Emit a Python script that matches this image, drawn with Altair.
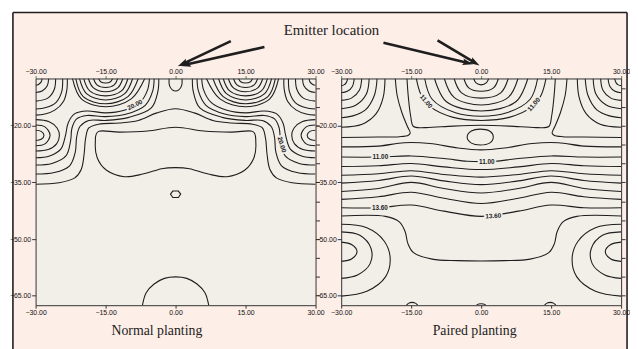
import altair as alt
import pandas as pd

# ---------------- axes ----------------
X_DOMAIN = [-30, 30]
Y_DOMAIN = [-67.5, -7.5]
X_TICKS = [-30, -15, 0, 15, 30]
Y_TICKS = [-20, -35, -50, -65]
Y_MINOR_TICKS = [-10, -15, -20, -25, -30, -35, -40, -45, -50, -55, -60, -65]

# ============ Normal planting (left panel) contour lines, (x, depth) ============
N_CORNER_ARCS = [
    [(-28.6, -7.5), (-28.8, -8.4), (-29.4, -9.1), (-30, -9.3)],
    [(-27.2, -7.5), (-27.5, -9.4), (-28.6, -10.8), (-30, -11.2)],
    [(-25.7, -7.5), (-26.0, -10.4), (-27.4, -12.7), (-30, -13.5)],
    [(-24.2, -7.5), (-24.4, -11.0), (-25.6, -13.8), (-27.8, -15.2), (-30, -15.6)],
    [(-23.2, -7.5), (-23.3, -10.5), (-24.0, -13.5), (-25.8, -15.8), (-28.0, -16.9), (-30, -17.2)],
    [(28.6, -7.5), (28.8, -8.4), (29.4, -9.1), (30, -9.3)],
    [(27.2, -7.5), (27.5, -9.4), (28.6, -10.8), (30, -11.2)],
    [(25.7, -7.5), (26.0, -10.4), (27.4, -12.7), (30, -13.5)],
    [(24.2, -7.5), (24.4, -11.0), (25.6, -13.8), (27.8, -15.2), (30, -15.6)],
    [(23.2, -7.5), (23.3, -10.5), (24.0, -13.5), (25.8, -15.8), (28.0, -16.9), (30, -17.2)],
]
N_TOP_ARCS = [
    [(-16.5, -7.5), (-16.05, -8.35), (-15, -8.7), (-13.95, -8.35), (-13.5, -7.5)],
    [(-17.6, -7.5), (-16.85, -9.2), (-15, -9.9), (-13.15, -9.2), (-12.4, -7.5)],
    [(-18.7, -7.5), (-17.6, -10.0), (-15, -11.0), (-12.4, -10.0), (-11.3, -7.5)],
    [(-19.7, -7.5), (-18.4, -10.8), (-15, -12.1), (-11.6, -10.8), (-10.2, -7.5)],
    [(-20.6, -7.5), (-19.1, -11.5), (-15, -13.2), (-10.9, -11.5), (-9.2, -7.5)],
    [(-21.4, -7.5), (-19.8, -12.3), (-15, -14.2), (-10.2, -12.3), (-8.0, -7.5)],
    [(-22.1, -7.5), (-20.2, -12.9), (-15, -15.0), (-9.5, -12.9), (-6.6, -7.5)],
    [(13.5, -7.5), (13.95, -8.35), (15, -8.7), (16.05, -8.35), (16.5, -7.5)],
    [(12.4, -7.5), (13.15, -9.2), (15, -9.9), (16.85, -9.2), (17.6, -7.5)],
    [(11.3, -7.5), (12.4, -10.0), (15, -11.0), (17.6, -10.0), (18.7, -7.5)],
    [(10.2, -7.5), (11.6, -10.8), (15, -12.1), (18.4, -10.8), (19.7, -7.5)],
    [(9.2, -7.5), (10.9, -11.5), (15, -13.2), (19.1, -11.5), (20.6, -7.5)],
    [(8.0, -7.5), (10.2, -12.3), (15, -14.2), (19.8, -12.3), (21.4, -7.5)],
    [(6.6, -7.5), (9.5, -12.9), (15, -15.0), (20.2, -12.9), (22.1, -7.5)],
    [(-1.4, -7.5), (-1.3, -9.4), (-0.7, -10.5), (0, -10.8), (0.7, -10.5), (1.3, -9.4), (1.4, -7.5)],
]
N_WRAP_LINES = [
    [(-5.6, -7.5), (-6.0, -10.5), (-7.6, -13.8), (-11, -15.9), (-15, -16.6), (-19, -16.1),
     (-21.6, -16.8), (-23.0, -19.2), (-23.6, -22.6), (-24.6, -26.2), (-27, -28.0), (-30, -28.5)],
    [(-4.6, -7.5), (-4.9, -10.8), (-6.5, -14.6), (-10.5, -16.9), (-15, -17.6), (-19, -17.3),
     (-21.2, -18.2), (-22.2, -20.6), (-22.5, -24.0), (-23.5, -28.0), (-26.5, -30.0), (-30, -30.4)],
    [(-3.6, -7.5), (-3.8, -11.0), (-5.2, -15.3), (-10, -17.8), (-15, -18.6), (-18.6, -18.6),
     (-20.5, -20.2), (-21.2, -23.0), (-21.5, -27.0), (-22.7, -30.6), (-26, -32.4), (-30, -32.8)],
    [(5.6, -7.5), (6.0, -10.5), (7.6, -13.8), (11, -15.9), (15, -16.6), (19, -16.1),
     (21.6, -16.8), (23.0, -19.2), (23.6, -22.6), (24.6, -26.2), (27, -28.0), (30, -28.5)],
    [(4.6, -7.5), (4.9, -10.8), (6.5, -14.6), (10.5, -16.9), (15, -17.6), (19, -17.3),
     (21.2, -18.2), (22.2, -20.6), (22.5, -24.0), (23.5, -28.0), (26.5, -30.0), (30, -30.4)],
    [(3.6, -7.5), (3.8, -11.0), (5.2, -15.3), (10, -17.8), (15, -18.6), (18.6, -18.6),
     (20.5, -20.2), (21.2, -23.0), (21.5, -27.0), (22.7, -30.6), (26, -32.4), (30, -32.8)],
]
N_ACROSS = [
    [(-30, -35.5), (-25, -35.1), (-21.6, -33.8), (-20.2, -31.5), (-19.6, -27.5), (-19.3, -23.5),
     (-18.6, -20.6), (-16.5, -19.6), (-12, -19.3), (-8, -18.6), (-4, -16.6), (0, -15.5),
     (4, -16.6), (8, -18.6), (12, -19.3), (16.5, -19.6), (18.6, -20.6), (19.3, -23.5),
     (19.6, -27.5), (20.2, -31.5), (21.6, -33.8), (25, -35.1), (30, -35.5)],
]
N_EDGE_LOOPS = [
    [(-30, -21.2), (-28.8, -21.5), (-28.2, -22.5), (-28.8, -23.6), (-30, -23.9)],
    [(-30, -19.8), (-28.0, -20.3), (-26.9, -22.5), (-28.0, -24.8), (-30, -25.3)],
    [(-30, -18.4), (-27.2, -18.9), (-25.4, -20.6), (-24.9, -22.6), (-25.5, -24.8), (-27.3, -26.3), (-30, -26.7)],
    [(30, -21.2), (28.8, -21.5), (28.2, -22.5), (28.8, -23.6), (30, -23.9)],
    [(30, -19.8), (28.0, -20.3), (26.9, -22.5), (28.0, -24.8), (30, -25.3)],
    [(30, -18.4), (27.2, -18.9), (25.4, -20.6), (24.9, -22.6), (25.5, -24.8), (27.3, -26.3), (30, -26.7)],
]
N_BOTTOM_ARC = [
    [(-7.1, -67.5), (-6.3, -64.2), (-4.6, -61.9), (-2.4, -60.4), (0, -60.0),
     (2.4, -60.4), (4.6, -61.9), (6.3, -64.2), (7.1, -67.5)],
]
N_CLOSED = [
    [(-16.5, -21.5), (-12, -21.7), (-6, -21.4), (0, -20.4), (6, -21.4), (12, -21.7), (16.5, -21.5),
     (17.2, -24.5), (16.8, -28.5), (14.8, -31.8), (11, -33.5), (7, -32.8), (3, -31.4), (0, -31.1),
     (-3, -31.4), (-7, -32.8), (-11, -33.5), (-14.8, -31.8), (-16.8, -28.5), (-17.2, -24.5)],
]
N_POLYGONS = [
    [(-1.1, -38.1), (-0.6, -37.3), (0.6, -37.3), (1.1, -38.1), (0.6, -39.0), (-0.6, -39.0)],
]
N_LABELS = [("20.00", -8.7, -14.5, 333), ("20.00", 22.75, -25.0, 73)]

# ============ Paired planting (right panel) contour lines, (x, depth) ============
P_CORNER_ARCS = [
    [(-28.6, -7.5), (-28.9, -8.6), (-29.4, -9.2), (-30, -9.4)],
    [(-27.2, -7.5), (-27.6, -9.6), (-28.7, -10.9), (-30, -11.3)],
    [(-25.6, -7.5), (-26.1, -10.6), (-27.8, -12.7), (-30, -13.3)],
    [(-24.0, -7.5), (-24.6, -11.6), (-26.8, -14.5), (-30, -15.5)],
    [(-22.3, -7.5), (-22.9, -12.0), (-24.8, -15.8), (-27.5, -17.4), (-30, -17.9)],
    [(-20.6, -7.5), (-21.0, -12.5), (-22.5, -16.8), (-25.5, -19.6), (-30, -20.4)],
    [(-18.4, -7.5), (-18.0, -12.0), (-17.0, -16.5), (-15.8, -20.2), (-15.2, -21.9), (-15.6, -22.5),
     (-17.5, -22.9), (-22, -23.0), (-30, -23.1)],
    [(28.6, -7.5), (28.9, -8.6), (29.4, -9.2), (30, -9.4)],
    [(27.2, -7.5), (27.6, -9.6), (28.7, -10.9), (30, -11.3)],
    [(25.6, -7.5), (26.1, -10.6), (27.8, -12.7), (30, -13.3)],
    [(24.0, -7.5), (24.6, -11.6), (26.8, -14.5), (30, -15.5)],
    [(22.3, -7.5), (22.9, -12.0), (24.8, -15.8), (27.5, -17.4), (30, -17.9)],
    [(20.6, -7.5), (21.0, -12.5), (22.5, -16.8), (25.5, -19.6), (30, -20.4)],
    [(18.4, -7.5), (18.0, -12.0), (17.0, -16.5), (15.8, -20.2), (15.2, -21.9), (15.6, -22.5),
     (17.5, -22.9), (22, -23.0), (30, -23.1)],
]
P_TOP_ARCS = [
    [(-1.6, -7.5), (-1.15, -8.6), (0, -9.2), (1.15, -8.6), (1.6, -7.5)],
    [(-3.7, -7.5), (-2.65, -10.0), (0, -10.9), (2.65, -10.0), (3.7, -7.5)],
    [(-5.8, -7.5), (-4.2, -11.3), (0, -12.7), (4.2, -11.3), (5.8, -7.5)],
    [(-7.9, -7.5), (-5.8, -12.5), (0, -14.5), (5.8, -12.5), (7.9, -7.5)],
    [(-10.0, -7.5), (-7.5, -13.6), (0, -16.1), (7.5, -13.6), (10.0, -7.5)],
    [(-12.1, -7.5), (-10.5, -13.0), (-5.5, -16.6), (0, -17.5), (5.5, -16.6), (10.5, -13.0), (12.1, -7.5)],
    [(-13.9, -7.5), (-12.9, -11.8), (-11.0, -14.9), (-6.0, -17.8), (0, -18.6), (6.0, -17.8),
     (11.0, -14.9), (12.9, -11.8), (13.9, -7.5)],
    [(-15.9, -7.5), (-15.6, -12.5), (-15.1, -17.5), (-14.5, -20.2), (-12.0, -20.5), (-6.0, -20.1),
     (0, -19.9), (6.0, -20.1), (12.0, -20.5), (14.5, -20.2), (15.1, -17.5), (15.6, -12.5), (15.9, -7.5)],
]
P_BANDS = [
    [(-30, -25.6), (-22, -25.4), (-16.5, -24.5), (-11, -24.7), (-5, -25.9), (0, -26.4),
     (5, -25.9), (11, -24.7), (16.5, -24.5), (22, -25.4), (30, -25.6)],
    [(-30, -28.3), (-22, -28.3), (-15, -28.0), (-8, -28.7), (-3, -29.4), (0, -29.5),
     (3, -29.4), (8, -28.7), (15, -28.0), (22, -28.3), (30, -28.3)],
    [(-30, -30.8), (-22, -30.6), (-15, -30.0), (-8, -30.9), (0, -31.6),
     (8, -30.9), (15, -30.0), (22, -30.6), (30, -30.8)],
    [(-30, -33.1), (-22, -32.7), (-15, -31.9), (-8, -32.9), (0, -33.6),
     (8, -32.9), (15, -31.9), (22, -32.7), (30, -33.1)],
    [(-30, -35.2), (-22, -34.5), (-15, -33.3), (-8, -34.6), (0, -35.6),
     (8, -34.6), (15, -33.3), (22, -34.5), (30, -35.2)],
    [(-30, -37.4), (-22, -36.6), (-15, -35.0), (-8, -36.6), (0, -37.8),
     (8, -36.6), (15, -35.0), (22, -36.6), (30, -37.4)],
    [(-30, -39.5), (-22, -38.8), (-15, -37.6), (-8, -39.2), (0, -40.6),
     (8, -39.2), (15, -37.6), (22, -38.8), (30, -39.5)],
    [(-30, -41.7), (-22, -41.7), (-15, -41.0), (-8, -42.6), (0, -44.0),
     (8, -42.6), (15, -41.0), (22, -41.7), (30, -41.7)],
    [(-30, -43.9), (-20.5, -44.0), (-17.6, -45.4), (-16.3, -48.0), (-15.7, -51.2), (-14.5, -53.6),
     (-10.5, -55.3), (-5, -55.7), (0, -55.8), (5, -55.7), (10.5, -55.3), (14.5, -53.6),
     (15.7, -51.2), (16.3, -48.0), (17.6, -45.4), (20.5, -44.0), (30, -43.9)],
]
P_EDGE_LOOPS = [
    [(-30, -50.8), (-27.7, -51.5), (-26.6, -53.3), (-27.7, -55.2), (-30, -55.9)],
    [(-30, -48.1), (-26.0, -49.0), (-23.6, -52.5), (-23.8, -56.5), (-26.5, -59.5), (-30, -60.4)],
    [(-30, -46.1), (-24.5, -47.0), (-20.8, -50.5), (-19.5, -55.0), (-20.5, -60.0), (-24.5, -63.8), (-30, -65.1)],
    [(30, -50.8), (27.7, -51.5), (26.6, -53.3), (27.7, -55.2), (30, -55.9)],
    [(30, -48.1), (26.0, -49.0), (23.6, -52.5), (23.8, -56.5), (26.5, -59.5), (30, -60.4)],
    [(30, -46.1), (24.5, -47.0), (20.8, -50.5), (19.5, -55.0), (20.5, -60.0), (24.5, -63.8), (30, -65.1)],
]
P_BUMPS = [
    [(-16.0, -67.5), (-15.5, -66.95), (-14.8, -66.75), (-14.1, -66.95), (-13.6, -67.5)],
    [(-1.0, -67.5), (-0.5, -67.2), (0.5, -67.2), (1.0, -67.5)],
    [(13.6, -67.5), (14.1, -66.95), (14.8, -66.75), (15.5, -66.95), (16.0, -67.5)],
]
P_CLOSED = [
    [(-3.0, -23.0), (-2.1, -21.4), (-0.2, -20.9), (1.8, -21.4), (2.6, -23.0), (1.8, -24.6),
     (-0.2, -25.1), (-2.1, -24.6)],
]
P_LABELS = [("11.00", -11.8, -13.6, 50), ("11.00", 11.3, -14.4, 310),
            ("11.00", -21.6, -28.3, 0), ("11.00", 1.2, -29.5, 0),
            ("13.60", -21.7, -41.7, 0), ("13.60", 2.6, -43.9, 357)]

# ---------------- annotations (panel data coordinates) ----------------
N_ARROWS = [(11.84, 2.4, 1.64, -3.57), (19.04, 0.84, 2.30, -3.83)]
N_HEADS = [(1.64, -3.57, 244.6), (2.30, -3.83, 257.3)]
P_ARROWS = [(-20.94, 1.98, -3.0, -3.36), (-9.35, 2.58, -1.46, -3.25)]
P_HEADS = [(-3.0, -3.36, 103.5), (-1.46, -3.25, 121)]
EMITTER_TEXT = [("Emitter location", 33.4, 3.9)]
N_TITLE = [("Normal planting", -4.0, -75.45)]
P_TITLE = [("Paired planting", -1.4, -75.45)]

# ---------------- style ----------------
PAGE_BG = "#FDEEE7"
PLOT_BG = "#F2EFE9"
INK = "#1e1e1e"
SERIF = "Liberation Serif, Times New Roman, serif"
SANS = "Liberation Sans Narrow, Liberation Sans, Arial, sans-serif"
ARROW_SHAPE = "M0,-1L0.55,0.75L0,0.45L-0.55,0.75Z"
W, H = 284, 230


def to_df(groups):
    rows = []
    for i, pts in enumerate(groups):
        for k, (x, y) in enumerate(pts):
            rows.append({"line": i, "ord": k, "x": x, "y": y})
    return pd.DataFrame(rows)


def panel(open_groups, closed_groups, poly_groups, labels, arrows, heads, title, left):
    xs = alt.Scale(domain=X_DOMAIN, nice=False, zero=False)
    ys = alt.Scale(domain=Y_DOMAIN, nice=False, zero=False)
    xp = alt.X("x:Q", scale=xs, axis=None)
    yp = alt.Y("y:Q", scale=ys, axis=None)
    layers = []
    one = pd.DataFrame({"k": [0]})
    if left:
        layers.append(alt.Chart(one).mark_rect(fill=PAGE_BG, strokeWidth=0).encode(
            x=alt.value(-23), x2=alt.value(600), y=alt.value(-67), y2=alt.value(275)))
        layers.append(alt.Chart(one).mark_rule(color=INK, strokeWidth=1.6).encode(
            x=alt.value(-23), x2=alt.value(600), y=alt.value(-67)))
        layers.append(alt.Chart(one).mark_rule(color=INK, strokeWidth=1.6).encode(
            x=alt.value(-23), y=alt.value(-67), y2=alt.value(275)))
        layers.append(alt.Chart(one).mark_rule(color=INK, strokeWidth=1.6).encode(
            x=alt.value(600), y=alt.value(-67), y2=alt.value(275)))
        layers.append(alt.Chart(one).mark_rect(fill=PLOT_BG, strokeWidth=0).encode(
            x=alt.value(0), x2=alt.value(W), y=alt.value(0), y2=alt.value(H)))

    layers.append(alt.Chart(to_df(open_groups)).mark_line(
        interpolate="catmull-rom", color=INK, strokeWidth=1.1, clip=True).encode(
        x=alt.X("x:Q", scale=xs, title=None, axis=alt.Axis(
            orient="bottom", values=X_TICKS, format=".2f", tickSize=3, labelPadding=0, zindex=2)),
        y=alt.Y("y:Q", scale=ys, title=None, axis=alt.Axis(
            orient="left", values=Y_TICKS, format=".2f", tickSize=4, labelPadding=1, zindex=2)),
        detail="line:N", order="ord:Q"))
    layers.append(alt.Chart(to_df(closed_groups)).mark_line(
        interpolate="cardinal-closed", color=INK, strokeWidth=1.1, clip=True).encode(
        x=alt.X("x:Q", scale=xs, title=None, axis=alt.Axis(
            orient="top", values=X_TICKS, format=".2f", tickSize=3, labelPadding=1,
            tickColor="#4f8f4f", zindex=2)),
        y=alt.Y("y:Q", scale=ys, title=None, axis=alt.Axis(
            orient="right", values=Y_MINOR_TICKS, labels=False, tickSize=4, zindex=2)),
        detail="line:N", order="ord:Q"))
    if poly_groups:
        layers.append(alt.Chart(to_df(poly_groups)).mark_line(
            interpolate="linear-closed", color=INK, strokeWidth=1.1, clip=True).encode(
            x=xp, y=yp, detail="line:N", order="ord:Q"))

    lab = pd.DataFrame(labels, columns=["text", "x", "y", "angle"])
    layers.append(alt.Chart(lab).mark_text(
        font=SANS, fontSize=6.5, fontWeight="bold", color=PLOT_BG, stroke=PLOT_BG,
        strokeWidth=3.5).encode(x=xp, y=yp, text="text:N",
                                angle=alt.Angle("angle:Q", scale=None)))
    layers.append(alt.Chart(lab).mark_text(
        font=SANS, fontSize=6.5, fontWeight="bold", color=INK).encode(
        x=xp, y=yp, text="text:N", angle=alt.Angle("angle:Q", scale=None)))

    arr = pd.DataFrame(arrows, columns=["x", "y", "x2", "y2"])
    layers.append(alt.Chart(arr).mark_rule(color=INK, strokeWidth=2.6).encode(
        x=xp, y=yp, x2="x2:Q", y2="y2:Q"))
    hd = pd.DataFrame(heads, columns=["x", "y", "angle"])
    layers.append(alt.Chart(hd).mark_point(
        shape=ARROW_SHAPE, filled=True, size=150, color=INK, opacity=1).encode(
        x=xp, y=yp, angle=alt.Angle("angle:Q", scale=None)))

    tt = pd.DataFrame(title, columns=["text", "x", "y"])
    layers.append(alt.Chart(tt).mark_text(
        font=SERIF, fontSize=14, color="#222", baseline="alphabetic").encode(
        x=xp, y=yp, text="text:N"))
    if left:
        et = pd.DataFrame(EMITTER_TEXT, columns=["text", "x", "y"])
        layers.append(alt.Chart(et).mark_text(
            font=SERIF, fontSize=15, color="#222", baseline="alphabetic").encode(
            x=xp, y=yp, text="text:N"))

    return alt.layer(*layers).properties(width=W, height=H).resolve_axis(
        x="independent", y="independent")


left_panel = panel(N_CORNER_ARCS + N_TOP_ARCS + N_WRAP_LINES + N_ACROSS + N_EDGE_LOOPS + N_BOTTOM_ARC,
                   N_CLOSED, N_POLYGONS, N_LABELS, N_ARROWS, N_HEADS, N_TITLE, True)
right_panel = panel(P_CORNER_ARCS + P_TOP_ARCS + P_BANDS + P_EDGE_LOOPS + P_BUMPS,
                    P_CLOSED, [], P_LABELS, P_ARROWS, P_HEADS, P_TITLE, False)

chart = alt.hconcat(left_panel, right_panel, spacing=26, bounds="flush").properties(
    padding={"left": 1, "top": 1, "right": 0, "bottom": 0}
).configure(background="white").configure_view(fill=PLOT_BG, stroke=None).configure_axis(
    labelFont=SANS, labelFontSize=7, labelColor="#111", domainColor="#333",
    domainWidth=1, tickColor="#333", tickWidth=1, grid=False,
    labelFlush=False, labelOverlap=False)

chart.save("out.html", embed_options={"renderer": "svg", "actions": False})
